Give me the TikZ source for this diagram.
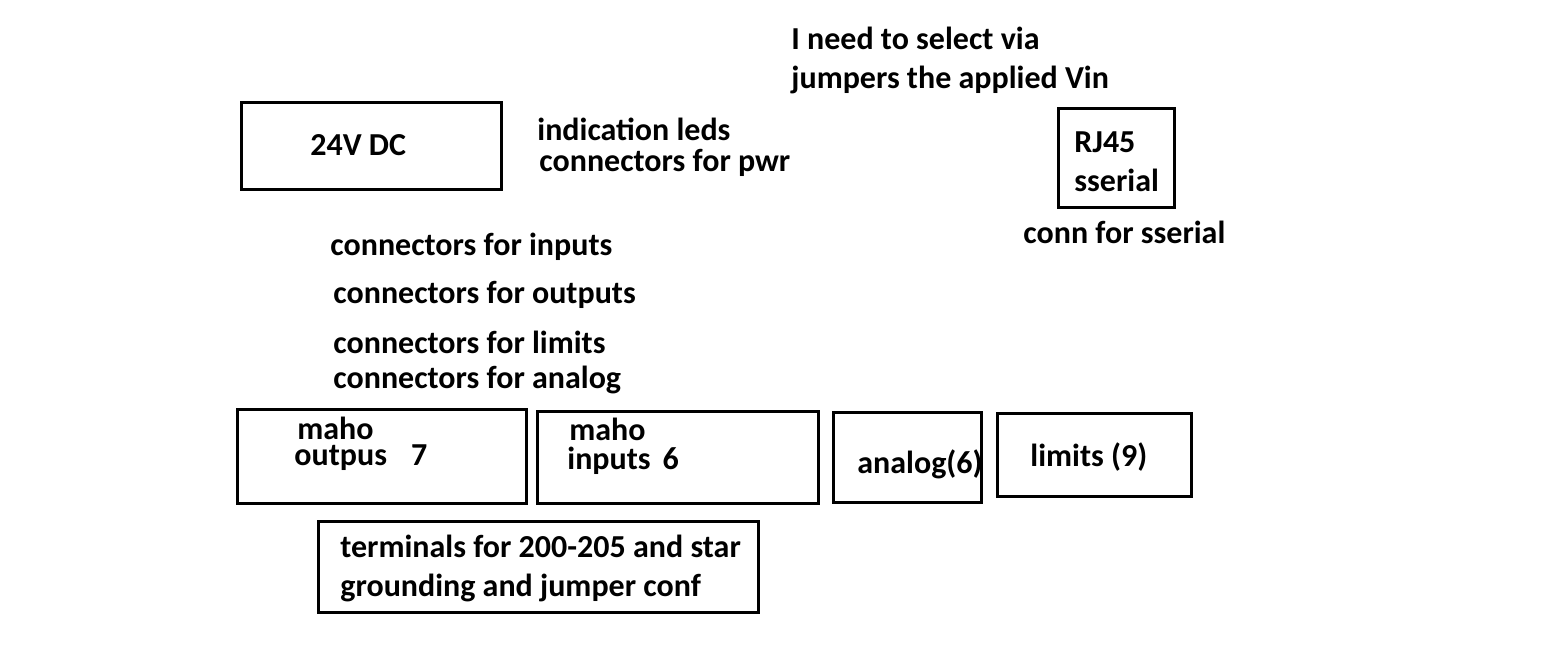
\documentclass[tikz,border=0pt]{standalone}
\usepackage{fontspec}
\setmainfont{Carlito}
\begin{document}
\begin{tikzpicture}
	  [
	    x = 0.5pt, y = -0.5pt,
	    every node/.style = {font=\fontsize{16}{19.5}\selectfont\bfseries, inner sep=0pt},
	    board/.style      = {draw, line width=1.5pt, minimum width=#1},
	    lbl/.style        = {anchor=west, align=left}
		]
		\useasboundingbox (0,0) rectangle (1559,648);
		% boxes
		\node [board=130pt, minimum height=43.5pt] (dc)   at (371,145.5) {};
		\node [board=58pt,  minimum height=49.5pt] (rj)   at (1116,157.5) {};
		\node [board=144.5pt, minimum height=47pt] (outb) at (381.5,456) {};
		\node [board=140.5pt, minimum height=46pt] (inb)  at (677.5,457) {};
		\node [board=74pt,  minimum height=45pt]   (anab) at (907,457) {};
		\node [board=97pt,  minimum height=41.5pt] (limb) at (1094,454.5) {};
		\node [board=220pt, minimum height=45.5pt] (term) at (538,566.5) {};
		% texts in boxes
		\node [lbl] (dcT)   at (310,145) {24V DC};
		\node [lbl] (rjT)   at (1074,162) {RJ45\\sserial};
		\node [lbl] (outT)  at (294,444) {\hspace{1.5pt}maho\\[-6.5pt]outpus\hspace{12pt}7};
		\node [lbl] (inT)   at (567,446) {\hspace{1pt}maho\\[-5pt]inputs\hspace{6pt}6};
		\node [lbl] (anaT)  at (857,464) {analog(6)};
		\node [lbl] (limT)  at (1030,457) {limits (9)};
		\node [lbl] (termT) at (340,568) {terminals for 200-205 and star\\grounding and jumper conf};
		% free texts
		\node [lbl] (vin)  at (791,60) {I need to select via\\jumpers the applied Vin};
		\node [lbl] (leds) at (537,147) {indication leds\\[-4pt]\hspace{1pt}connectors for pwr};
		\node [lbl] (ser)  at (1023,232) {conn for sserial};
		\node [lbl] (cin)  at (330,247) {connectors for inputs};
		\node [lbl] (cout) at (333,295) {connectors for outputs};
		\node [lbl] (clim) at (333,342) {connectors for limits};
		\node [lbl] (cana) at (333,380) {connectors for analog};
	\end{tikzpicture}
\end{document}
